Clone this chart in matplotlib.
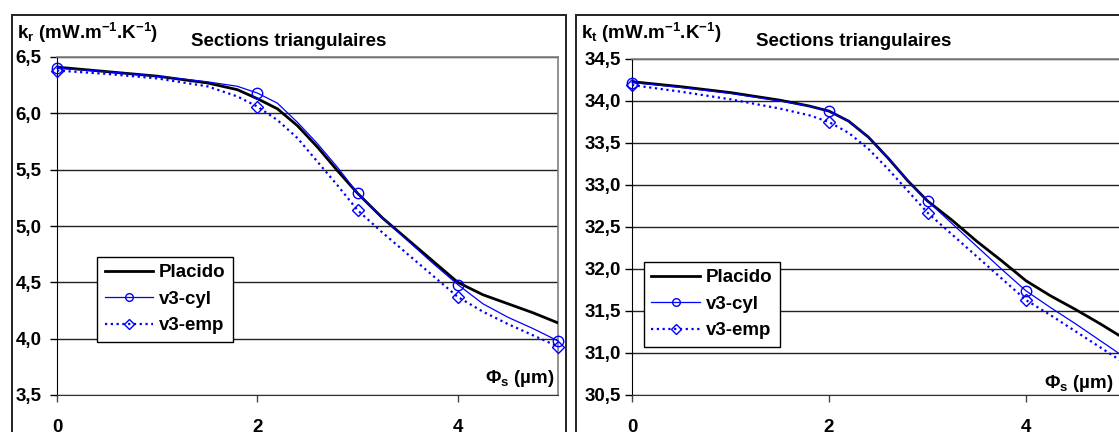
import matplotlib
matplotlib.use("Agg")
import numpy as np
import matplotlib.pyplot as plt
from matplotlib.patches import Rectangle
from matplotlib.lines import Line2D

plt.rcParams["font.family"] = ["Liberation Sans", "DejaVu Sans"]
plt.rcParams["font.weight"] = "bold"
plt.rcParams["mathtext.fontset"] = "custom"
plt.rcParams["mathtext.rm"] = "Liberation Sans:bold"
plt.rcParams["mathtext.it"] = "Liberation Sans:bold"
plt.rcParams["mathtext.bf"] = "Liberation Sans:bold"

# diameter of the fibre section (µm)
PHI = [0, 0.5, 1.0, 1.5, 1.8, 2.0, 2.2, 2.4, 2.6, 2.8, 3.0, 3.25, 3.5, 3.75, 4.0, 4.25, 4.5, 4.75, 5.0]
PHI_POINTS = [0, 2, 3, 4, 5]   # computed v3 points (marked)

# radiative conductivity k_r
KR_PLACIDO = [6.41, 6.37, 6.33, 6.27, 6.21, 6.13, 6.04, 5.89, 5.70, 5.49, 5.29, 5.07, 4.88, 4.69, 4.50, 4.39, 4.31, 4.23, 4.14]
KR_CYL = [6.40, 6.37, 6.33, 6.28, 6.24, 6.18, 6.09, 5.92, 5.73, 5.52, 5.29, 5.07, 4.87, 4.67, 4.48, 4.31, 4.19, 4.09, 3.98]
KR_EMP = [6.38, 6.35, 6.31, 6.24, 6.15, 6.06, 5.94, 5.78, 5.57, 5.36, 5.14, 4.94, 4.75, 4.56, 4.37, 4.24, 4.13, 4.03, 3.93]

# total conductivity k_t
KT_PLACIDO = [34.23, 34.17, 34.10, 34.01, 33.94, 33.88, 33.76, 33.57, 33.32, 33.05, 32.81, 32.58, 32.33, 32.10, 31.86, 31.68, 31.52, 31.35, 31.17]
KT_CYL = [34.22, 34.16, 34.09, 34.00, 33.94, 33.88, 33.76, 33.57, 33.32, 33.05, 32.81, 32.54, 32.27, 32.00, 31.74, 31.54, 31.35, 31.15, 30.95]
KT_EMP = [34.19, 34.11, 34.02, 33.91, 33.83, 33.75, 33.62, 33.43, 33.19, 32.93, 32.67, 32.41, 32.15, 31.89, 31.63, 31.45, 31.26, 31.07, 30.88]

TITLE = "Sections triangulaires"
XLABEL = r"$\mathbf{\Phi_s}$ (µm)"
BLUE = "#0000FF"
FS = 13.5

W, H = 1119, 432
fig = plt.figure(figsize=(W / 100, H / 100), dpi=100)


def fx(px):
    return px / W


def fy(py):
    return 1 - py / H


def draw_panel(frame, box, placido, cyl, emp, ylim, ylabel, leg_xy, lab_xy, ypad, title_x):
    # chart-area frame
    fig.patches.append(Rectangle((fx(frame[0]), fy(frame[1] + 500)), fx(frame[2] - frame[0]),
                                 500 / H, transform=fig.transFigure, fill=False,
                                 edgecolor="#222222", lw=1.4))
    l, t, r, b = box
    ax = fig.add_axes([fx(l), fy(b), fx(r - l), (b - t) / H])
    marks = [PHI.index(p) for p in PHI_POINTS]

    ax.plot(PHI, placido, color="black", lw=2.0, zorder=3)
    ax.plot(PHI, cyl, color=BLUE, lw=0.9, marker="o", markevery=marks, ms=7.5,
            mfc="none", mec=BLUE, mew=1.0, zorder=4, clip_on=False)
    ax.plot(PHI, emp, color=BLUE, lw=1.6, ls=(0, (1, 1.6)), marker="D", markevery=marks,
            ms=6.5, mfc="none", mec=BLUE, mew=1.0, zorder=4, clip_on=False)

    ax.set_xlim(0, 5)
    ax.set_ylim(*ylim)
    yt = np.arange(ylim[0], ylim[1] + 0.01, 0.5)
    ax.set_yticks(yt)
    ax.set_yticklabels([f"{v:.1f}".replace(".", ",") for v in yt])
    ax.set_xticks([0, 2, 4])
    ax.set_xticklabels(["0", "2", "4"])
    ax.tick_params(axis="y", length=5, width=1, direction="out", pad=ypad, labelsize=FS)
    ax.tick_params(axis="x", length=5, width=1, direction="out", pad=12, labelsize=FS,
                   color="#444444")
    ax.grid(axis="y", color="#222222", lw=1.0)
    ax.set_axisbelow(True)
    for s in ("top", "right"):
        ax.spines[s].set_color("#808080")
        ax.spines[s].set_linewidth(1.2)
    ax.spines["left"].set_color("black")
    ax.spines["bottom"].set_color("#333333")

    ax.text(lab_xy[0], lab_xy[1], XLABEL, transform=ax.transAxes, ha="right", va="center",
            fontsize=FS, fontweight="bold")

    handles = [
        Line2D([], [], color="black", lw=2.0),
        Line2D([], [], color=BLUE, lw=0.9, marker="o", ms=5.5, mfc="none", mec=BLUE),
        Line2D([], [], color=BLUE, lw=1.6, ls=(0, (1, 1.6)), marker="D", ms=5,
               mfc="none", mec=BLUE),
    ]
    leg = ax.legend(handles, ["Placido", "v3-cyl", "v3-emp"], loc="lower left",
                    bbox_to_anchor=leg_xy, fontsize=FS, frameon=True, fancybox=False,
                    edgecolor="black", framealpha=1, handlelength=2.6, handletextpad=0.3,
                    borderpad=0.4, labelspacing=0.5, borderaxespad=0)
    leg.get_frame().set_linewidth(1.0)

    fig.text(fx(frame[0] + 5), fy(33), ylabel, ha="left", va="center", fontsize=FS,
             fontweight="bold")
    fig.text(fx(title_x), fy(42), TITLE, ha="center", va="center", fontsize=FS,
             fontweight="bold")
    return ax


draw_panel(frame=(12, 15, 566), box=(57, 57, 558, 395),
           placido=KR_PLACIDO, cyl=KR_CYL, emp=KR_EMP, ylim=(3.5, 6.5),
           ylabel=r"$\mathbf{k_r}$ (mW.m$^{\mathbf{-1}}$.K$^{\mathbf{-1}}$)",
           leg_xy=(0.08, 0.157), lab_xy=(0.994, 0.05), ypad=6, title_x=289)

draw_panel(frame=(576, 15, 1300), box=(632, 59, 1124.5, 395),
           placido=KT_PLACIDO, cyl=KT_CYL, emp=KT_EMP, ylim=(30.5, 34.5),
           ylabel=r"$\mathbf{k_t}$ (mW.m$^{\mathbf{-1}}$.K$^{\mathbf{-1}}$)",
           leg_xy=(0.024, 0.143), lab_xy=(0.977, 0.035), ypad=3, title_x=854)

fig.savefig("out.png", dpi=100)
